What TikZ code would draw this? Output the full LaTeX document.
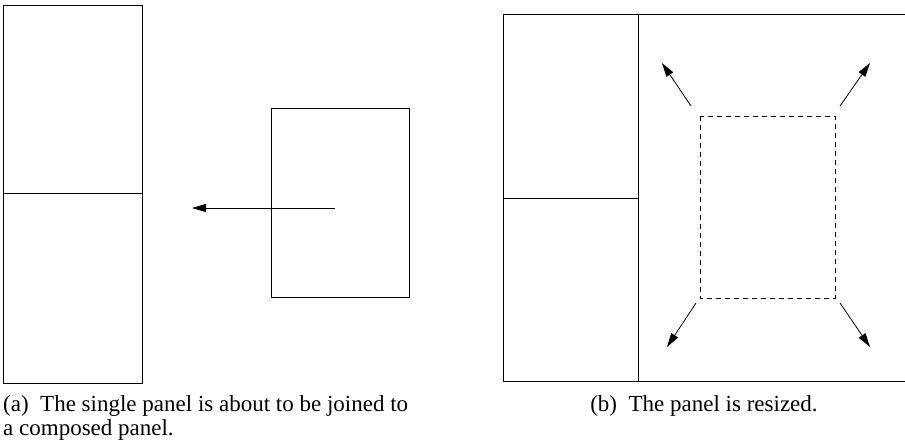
\documentclass[tikz,border=0pt]{standalone}
\usepackage{fontspec}
\setmainfont{Liberation Serif}
\usetikzlibrary{arrows.meta}
\begin{document}
\begin{tikzpicture}[x=1pt,y=-1pt,
  panel/.style={draw, line width=1pt},
  mover/.style={line width=0.8pt, -{Triangle[length=14pt,width=8pt]}},
  ghost/.style={draw, line width=0.8pt, dashed, dash pattern=on 5pt off 4pt},
  captext/.style={font=\fontsize{23}{24.5}\selectfont, inner sep=0pt}]
\useasboundingbox (0,0) rectangle (905,445);
% (a)
\draw[panel] (3,5) rectangle (142,383);
\draw[panel] (3,193) -- (142,193);
\draw[panel] (271,108) rectangle (409,297);
\coordinate (atail) at (335,208);
\coordinate (ahead) at (192,208);
\draw[mover] (atail) -- (ahead);
\node[captext, anchor=north west, align=left] (capa) at (3,395) {(a)\enspace The single panel is about to be joined to\\a composed panel.};
% (b)
\draw[panel] (905,14) -- (503,14) -- (503,381) -- (905,381);
\draw[panel] (638,14) -- (638,381);
\draw[panel] (503,198) -- (638,198);
\draw[ghost] (700,116) rectangle (835,298);
\coordinate (t1) at (691,106); \coordinate (h1) at (662,63);
\coordinate (t2) at (840,106); \coordinate (h2) at (870,63);
\coordinate (t3) at (696,303); \coordinate (h3) at (667,347);
\coordinate (t4) at (840,303); \coordinate (h4) at (870,347);
\draw[mover] (t1) -- (h1);
\draw[mover] (t2) -- (h2);
\draw[mover] (t3) -- (h3);
\draw[mover] (t4) -- (h4);
\node[captext, anchor=north] (capb) at (704,395) {(b)\enspace The panel is resized.};
\end{tikzpicture}
\end{document}
